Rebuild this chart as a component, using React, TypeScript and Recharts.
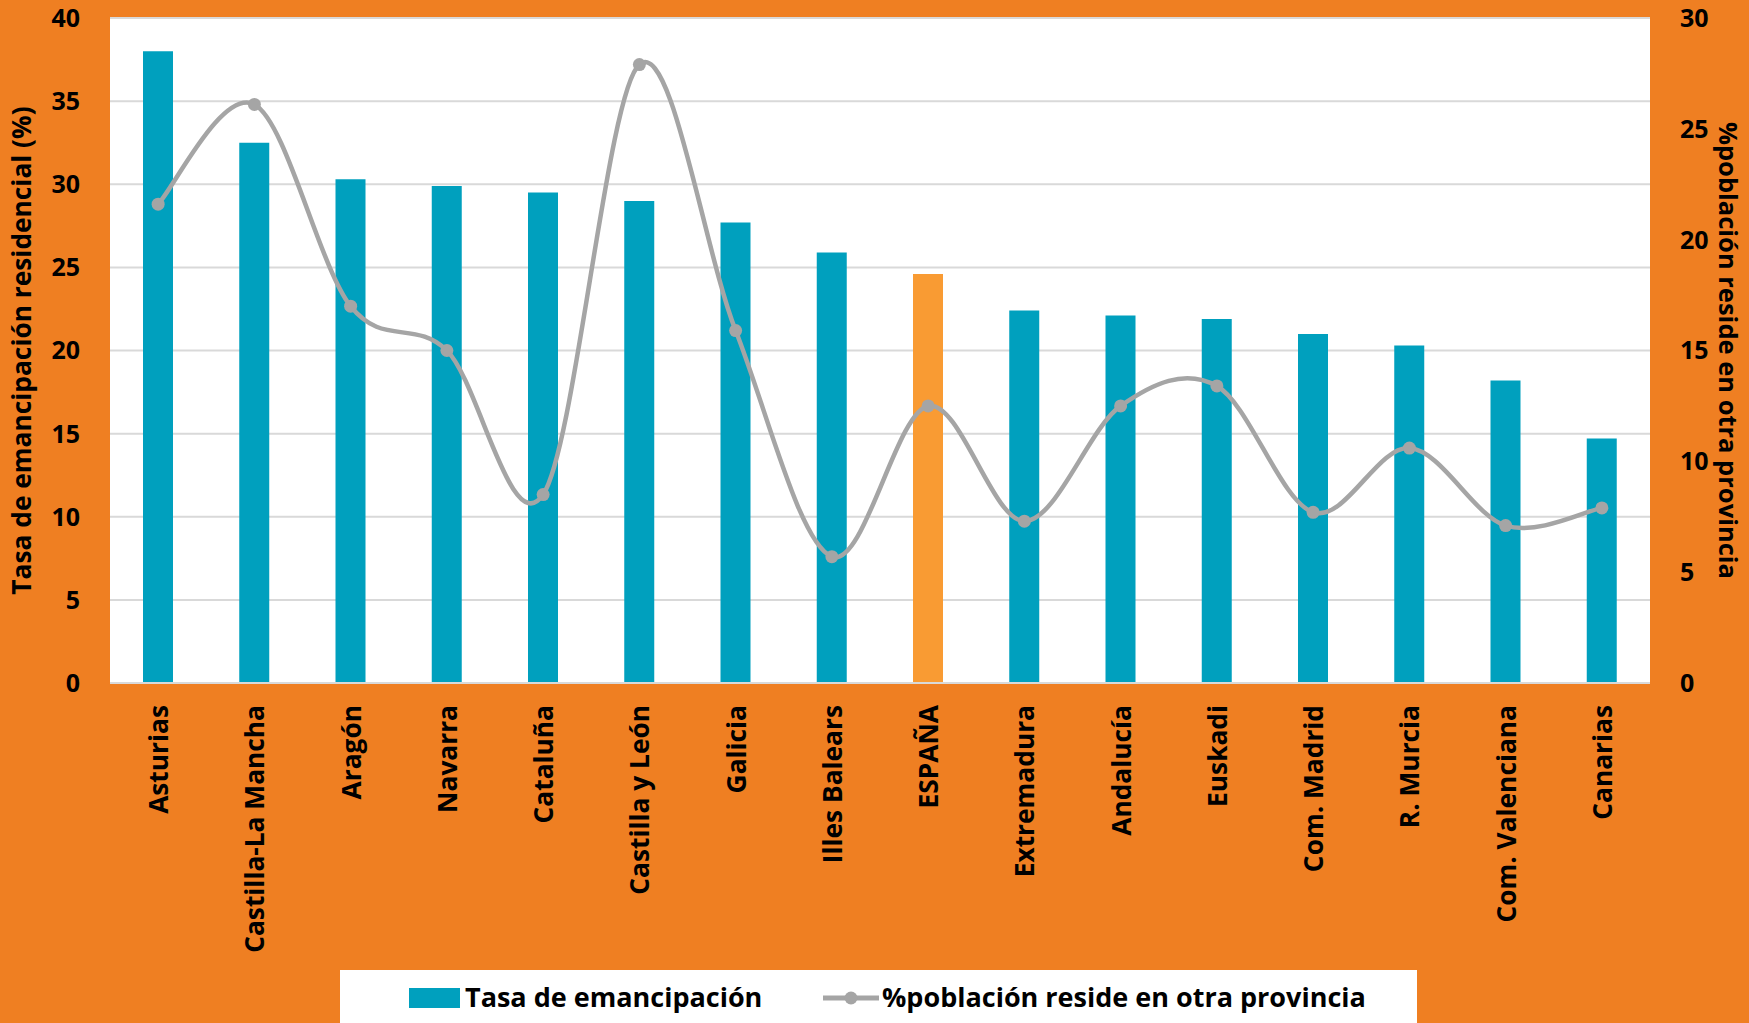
import React from "react";
import {
  ComposedChart,
  Bar,
  Line,
  Cell,
  XAxis,
  YAxis,
  CartesianGrid,
} from "recharts";

// Regions, sorted as in the source chart
const regions = [
  "Asturias",
  "Castilla-La Mancha",
  "Aragón",
  "Navarra",
  "Cataluña",
  "Castilla y León",
  "Galicia",
  "Illes Balears",
  "ESPAÑA",
  "Extremadura",
  "Andalucía",
  "Euskadi",
  "Com. Madrid",
  "R. Murcia",
  "Com. Valenciana",
  "Canarias",
];

// Tasa de emancipación residencial (%) - left axis
const emancipacion = [
  38.0, 32.5, 30.3, 29.9, 29.5, 29.0, 27.7, 25.9, 24.6, 22.4, 22.1, 21.9, 21.0,
  20.3, 18.2, 14.7,
];

// %población reside en otra provincia - right axis
const otraProvincia = [
  21.6, 26.1, 17.0, 15.0, 8.5, 27.9, 15.9, 5.7, 12.5, 7.3, 12.5, 13.4, 7.7,
  10.6, 7.1, 7.9,
];

const leftTicks = [0, 5, 10, 15, 20, 25, 30, 35, 40];
const rightTicks = [0, 5, 10, 15, 20, 25, 30];

const ORANGE = "#EF7F22";
const TEAL = "#00A0BE";
const SPAIN = "#F99B33";
const GREY = "#A5A5A5";
const FONT = "'Open Sans', sans-serif";

const data = regions.map((name, i) => ({
  name,
  tasa: emancipacion[i],
  otra: otraProvincia[i],
}));

// Excel-style smoothed line (Catmull-Rom bezier through every point)
const excelSmooth = (context: any) => {
  let xs: number[] = [];
  let ys: number[] = [];
  return {
    areaStart() {},
    areaEnd() {},
    lineStart() {
      xs = [];
      ys = [];
    },
    lineEnd() {
      const n = xs.length;
      if (!n) return;
      context.moveTo(xs[0], ys[0]);
      for (let i = 0; i < n - 1; i++) {
        const p = Math.max(i - 1, 0);
        const q = Math.min(i + 2, n - 1);
        context.bezierCurveTo(
          xs[i] + (xs[i + 1] - xs[p]) / 6,
          ys[i] + (ys[i + 1] - ys[p]) / 6,
          xs[i + 1] - (xs[q] - xs[i]) / 6,
          ys[i + 1] - (ys[q] - ys[i]) / 6,
          xs[i + 1],
          ys[i + 1]
        );
      }
    },
    point(x: number, y: number) {
      xs.push(x);
      ys.push(y);
    },
  };
};

const CategoryTick = ({ x, y, payload }: any) => (
  <g transform={`translate(${x},${y + 14})`}>
    <text
      transform="rotate(-90)"
      textAnchor="end"
      dominantBaseline="central"
      fontFamily={FONT}
      fontWeight={700}
      fontSize={26.3}
      fill="#000"
    >
      {payload.value}
    </text>
  </g>
);

const tickStyle = {
  fontFamily: FONT,
  fontWeight: 700,
  fontSize: 25,
  fill: "#000",
};

export default function App() {
  return (
    <div
      style={{
        position: "absolute",
        left: 0,
        top: 0,
        width: 1749,
        height: 1023,
        background: ORANGE,
        overflow: "hidden",
      }}
    >
      <ComposedChart
        width={1749}
        height={1023}
        data={data}
        margin={{ top: 18, right: 0, bottom: 0, left: 0 }}
        barCategoryGap={0}
      >
        <CartesianGrid
          vertical={false}
          stroke="#D9D9D9"
          strokeWidth={2}
          fill="#FFFFFF"
          fillOpacity={1}
          yAxisId="left"
        />
        <XAxis
          dataKey="name"
          height={340}
          interval={0}
          axisLine={{ stroke: "#D9D9D9", strokeWidth: 2 }}
          tickLine={false}
          tick={<CategoryTick />}
        />
        <YAxis
          yAxisId="left"
          width={110}
          domain={[0, 40]}
          ticks={leftTicks}
          axisLine={false}
          tickLine={false}
          tickMargin={24}
          tick={tickStyle}
          label={{
            value: "Tasa de emancipación residencial (%)",
            angle: -90,
            position: "insideLeft",
            offset: 22,
            fontFamily: FONT,
            fontWeight: 700,
            fontSize: 26.3,
            fill: "#000",
            style: { textAnchor: "middle" },
          }}
        />
        <YAxis
          yAxisId="right"
          orientation="right"
          width={99}
          domain={[0, 30]}
          ticks={rightTicks}
          axisLine={false}
          tickLine={false}
          tickMargin={24}
          tick={{ ...tickStyle, textAnchor: "start" }}
          label={{
            value: "%población reside en otra provincia",
            angle: 90,
            position: "insideRight",
            offset: 21,
            fontFamily: FONT,
            fontWeight: 700,
            fontSize: 25.5,
            fill: "#000",
            style: { textAnchor: "middle" },
          }}
        />
        <Bar
          yAxisId="left"
          dataKey="tasa"
          barSize={30}
          fill={TEAL}
          isAnimationActive={false}
        >
          {data.map((d) => (
            <Cell key={d.name} fill={d.name === "ESPAÑA" ? SPAIN : TEAL} />
          ))}
        </Bar>
        <Line
          yAxisId="right"
          dataKey="otra"
          type={excelSmooth as any}
          stroke={GREY}
          strokeWidth={4.5}
          dot={{ r: 6.5, fill: GREY, stroke: GREY, strokeWidth: 0 }}
          isAnimationActive={false}
        />
      </ComposedChart>

      {/* legend */}
      <div
        style={{
          position: "absolute",
          left: 340,
          top: 970,
          width: 1077,
          height: 60,
          background: "#FFFFFF",
          fontFamily: FONT,
          fontWeight: 700,
          fontSize: 27,
          color: "#000",
        }}
      >
        <div
          style={{
            position: "absolute",
            left: 69,
            top: 18,
            width: 51,
            height: 20,
            background: TEAL,
          }}
        />
        <div style={{ position: "absolute", left: 125, top: 9, lineHeight: "36px" }}>
          Tasa de emancipación
        </div>
        <svg
          style={{ position: "absolute", left: 483, top: 14 }}
          width={56}
          height={28}
        >
          <line x1={0} y1={14} x2={56} y2={14} stroke={GREY} strokeWidth={5} />
          <circle cx={28} cy={14} r={6.5} fill={GREY} />
        </svg>
        <div style={{ position: "absolute", left: 542, top: 9, lineHeight: "36px" }}>
          %población reside en otra provincia
        </div>
      </div>
    </div>
  );
}
